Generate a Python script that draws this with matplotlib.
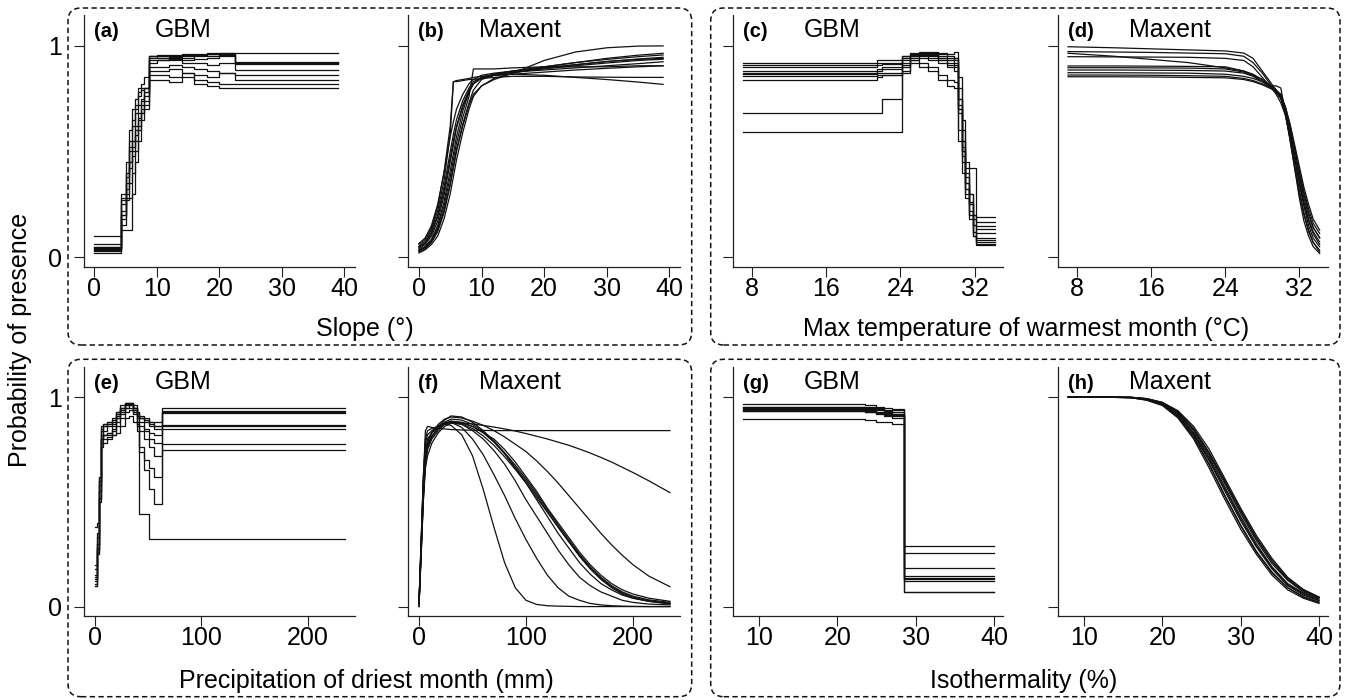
import matplotlib.pyplot as plt
from matplotlib.patches import FancyBboxPatch

plt.rcParams['font.family'] = ['Liberation Sans', 'DejaVu Sans']

W, H = 1347, 700

# (a) GBM - slope, step curves
slope_x_gbm = [0, 4.3, 5, 5.5, 6, 6.5, 7, 7.5, 8, 8.7, 10, 12, 14, 16, 18, 20, 22.5, 39]
slope_gbm = [
    [0.04, 0.25, 0.45, 0.60, 0.70, 0.75, 0.80, 0.82, 0.85, 0.95, 0.955, 0.955, 0.96, 0.96, 0.965, 0.965, 0.965, 0.965],
    [0.05, 0.13, 0.13, 0.13, 0.30, 0.45, 0.55, 0.65, 0.70, 0.95, 0.95, 0.95, 0.955, 0.955, 0.96, 0.96, 0.925, 0.925],
    [0.03, 0.20, 0.35, 0.50, 0.55, 0.68, 0.72, 0.75, 0.78, 0.94, 0.94, 0.945, 0.95, 0.955, 0.96, 0.965, 0.92, 0.92],
    [0.10, 0.30, 0.40, 0.52, 0.62, 0.70, 0.76, 0.80, 0.80, 0.93, 0.93, 0.94, 0.94, 0.95, 0.95, 0.955, 0.918, 0.918],
    [0.02, 0.15, 0.28, 0.28, 0.40, 0.50, 0.60, 0.68, 0.72, 0.92, 0.93, 0.935, 0.93, 0.935, 0.94, 0.95, 0.915, 0.915],
    [0.06, 0.18, 0.30, 0.45, 0.55, 0.62, 0.66, 0.72, 0.80, 0.95, 0.94, 0.93, 0.92, 0.92, 0.91, 0.92, 0.885, 0.885],
    [0.045, 0.22, 0.38, 0.45, 0.50, 0.58, 0.65, 0.70, 0.76, 0.90, 0.90, 0.91, 0.90, 0.89, 0.88, 0.87, 0.86, 0.86],
    [0.035, 0.27, 0.27, 0.35, 0.48, 0.55, 0.62, 0.68, 0.74, 0.88, 0.88, 0.89, 0.87, 0.86, 0.85, 0.87, 0.84, 0.84],
    [0.05, 0.28, 0.40, 0.55, 0.65, 0.72, 0.78, 0.79, 0.80, 0.86, 0.86, 0.85, 0.87, 0.84, 0.83, 0.82, 0.82, 0.82],
    [0.04, 0.20, 0.32, 0.42, 0.52, 0.60, 0.68, 0.74, 0.78, 0.84, 0.84, 0.83, 0.85, 0.82, 0.81, 0.80, 0.80, 0.80],
]

# (b) Maxent - slope
slope_x_max = [0, 1, 2, 3, 4, 5, 5.5, 6, 7, 8, 8.7, 10, 12, 15, 20, 25, 30, 35, 39]
slope_max = [
    [0.06, 0.09, 0.15, 0.25, 0.40, 0.62, 0.83, 0.83, 0.835, 0.84, 0.84, 0.845, 0.85, 0.855, 0.855, 0.852, 0.851, 0.85, 0.85],
    [0.03, 0.05, 0.08, 0.14, 0.24, 0.38, 0.46, 0.54, 0.66, 0.76, 0.89, 0.89, 0.89, 0.895, 0.90, 0.90, 0.90, 0.905, 0.905],
    [0.025, 0.04, 0.07, 0.12, 0.21, 0.34, 0.42, 0.50, 0.62, 0.72, 0.77, 0.81, 0.84, 0.87, 0.93, 0.97, 0.99, 0.998, 0.999],
    [0.05, 0.07, 0.12, 0.20, 0.33, 0.50, 0.58, 0.65, 0.74, 0.80, 0.83, 0.85, 0.865, 0.88, 0.90, 0.92, 0.94, 0.955, 0.964],
    [0.04, 0.06, 0.10, 0.17, 0.29, 0.45, 0.53, 0.61, 0.71, 0.78, 0.82, 0.85, 0.865, 0.88, 0.90, 0.92, 0.935, 0.948, 0.956],
    [0.065, 0.09, 0.14, 0.24, 0.40, 0.57, 0.64, 0.70, 0.77, 0.82, 0.84, 0.86, 0.87, 0.88, 0.895, 0.91, 0.925, 0.937, 0.945],
    [0.03, 0.045, 0.075, 0.13, 0.22, 0.35, 0.43, 0.51, 0.63, 0.73, 0.79, 0.84, 0.86, 0.875, 0.89, 0.905, 0.918, 0.93, 0.936],
    [0.045, 0.065, 0.11, 0.19, 0.31, 0.47, 0.55, 0.62, 0.72, 0.79, 0.82, 0.845, 0.86, 0.875, 0.885, 0.895, 0.905, 0.915, 0.924],
    [0.05, 0.08, 0.13, 0.22, 0.36, 0.58, 0.83, 0.835, 0.84, 0.845, 0.85, 0.855, 0.86, 0.865, 0.875, 0.885, 0.893, 0.90, 0.905],
    [0.035, 0.05, 0.085, 0.15, 0.26, 0.41, 0.49, 0.57, 0.69, 0.78, 0.82, 0.85, 0.86, 0.865, 0.86, 0.85, 0.84, 0.828, 0.817],
    [0.02, 0.035, 0.06, 0.10, 0.18, 0.30, 0.38, 0.46, 0.59, 0.70, 0.76, 0.81, 0.845, 0.87, 0.895, 0.91, 0.925, 0.935, 0.94],
]

# (c) GBM - max temperature of warmest month
tmax_x_gbm = [7, 21.5, 22, 24.2, 25, 26, 27, 28, 29, 29.8, 30.2, 30.6, 31, 31.4, 31.8, 32.2, 34.2]
tmax_gbm = [
    [0.92, 0.93, 0.93, 0.95, 0.965, 0.97, 0.97, 0.965, 0.96, 0.97, 0.85, 0.65, 0.45, 0.30, 0.20, 0.19, 0.19],
    [0.909, 0.92, 0.92, 0.94, 0.95, 0.96, 0.965, 0.96, 0.95, 0.94, 0.75, 0.55, 0.42, 0.42, 0.42, 0.167, 0.167],
    [0.901, 0.91, 0.915, 0.93, 0.96, 0.965, 0.96, 0.95, 0.94, 0.93, 0.70, 0.50, 0.35, 0.25, 0.15, 0.147, 0.147],
    [0.88, 0.89, 0.90, 0.92, 0.95, 0.96, 0.955, 0.94, 0.93, 0.92, 0.72, 0.52, 0.38, 0.26, 0.18, 0.131, 0.131],
    [0.872, 0.88, 0.89, 0.91, 0.94, 0.95, 0.94, 0.93, 0.92, 0.91, 0.80, 0.60, 0.40, 0.30, 0.20, 0.112, 0.112],
    [0.866, 0.87, 0.87, 0.90, 0.93, 0.94, 0.93, 0.92, 0.90, 0.88, 0.68, 0.48, 0.32, 0.22, 0.15, 0.093, 0.093],
    [0.857, 0.86, 0.86, 0.88, 0.93, 0.92, 0.90, 0.86, 0.84, 0.83, 0.60, 0.45, 0.30, 0.20, 0.12, 0.08, 0.08],
    [0.838, 0.85, 0.86, 0.87, 0.92, 0.90, 0.88, 0.84, 0.81, 0.80, 0.55, 0.40, 0.28, 0.18, 0.10, 0.057, 0.057],
    [0.683, 0.683, 0.748, 0.95, 0.955, 0.96, 0.955, 0.94, 0.93, 0.94, 0.75, 0.55, 0.35, 0.25, 0.12, 0.06, 0.06],
    [0.593, 0.593, 0.593, 0.94, 0.95, 0.955, 0.95, 0.93, 0.91, 0.90, 0.70, 0.50, 0.32, 0.20, 0.10, 0.07, 0.07],
]

# (d) Maxent - max temperature of warmest month
tmax_x_max = [7, 12, 16, 20, 24, 26, 27, 28, 29, 29.5, 30, 30.5, 31, 31.5, 32, 32.5, 33, 33.5, 34.2]
tmax_max = [
    [0.995, 0.99, 0.985, 0.98, 0.975, 0.965, 0.94, 0.88, 0.82, 0.79, 0.76, 0.68, 0.56, 0.42, 0.28, 0.17, 0.10, 0.05, 0.017],
    [0.972, 0.97, 0.968, 0.965, 0.962, 0.95, 0.92, 0.87, 0.81, 0.78, 0.75, 0.69, 0.59, 0.47, 0.35, 0.25, 0.17, 0.11, 0.06],
    [0.964, 0.95, 0.935, 0.92, 0.895, 0.88, 0.865, 0.84, 0.80, 0.77, 0.73, 0.67, 0.58, 0.48, 0.38, 0.28, 0.20, 0.14, 0.09],
    [0.948, 0.947, 0.946, 0.945, 0.94, 0.93, 0.90, 0.85, 0.80, 0.78, 0.77, 0.70, 0.60, 0.48, 0.36, 0.26, 0.18, 0.12, 0.072],
    [0.904, 0.904, 0.903, 0.902, 0.90, 0.88, 0.86, 0.83, 0.81, 0.81, 0.80, 0.68, 0.55, 0.42, 0.30, 0.20, 0.12, 0.07, 0.033],
    [0.896, 0.896, 0.895, 0.894, 0.89, 0.875, 0.86, 0.84, 0.81, 0.79, 0.76, 0.71, 0.63, 0.53, 0.43, 0.33, 0.25, 0.18, 0.128],
    [0.885, 0.885, 0.884, 0.883, 0.88, 0.87, 0.855, 0.83, 0.80, 0.78, 0.75, 0.70, 0.62, 0.52, 0.41, 0.31, 0.23, 0.16, 0.112],
    [0.872, 0.872, 0.871, 0.87, 0.865, 0.855, 0.845, 0.83, 0.805, 0.79, 0.77, 0.71, 0.62, 0.51, 0.40, 0.30, 0.21, 0.14, 0.093],
    [0.861, 0.861, 0.86, 0.858, 0.855, 0.845, 0.835, 0.82, 0.80, 0.78, 0.76, 0.69, 0.59, 0.47, 0.35, 0.24, 0.15, 0.09, 0.049],
    [0.853, 0.853, 0.852, 0.85, 0.848, 0.84, 0.83, 0.815, 0.795, 0.78, 0.75, 0.67, 0.56, 0.44, 0.32, 0.21, 0.13, 0.07, 0.025],
]

# (e) GBM - precipitation of driest month
prec_x_gbm = [0, 2, 4, 6, 8, 12, 16, 20, 24, 28, 32, 36, 40, 42, 46, 51, 56, 63.4, 234.6]
prec_gbm = [
    [0.15, 0.30, 0.60, 0.85, 0.87, 0.88, 0.90, 0.93, 0.95, 0.965, 0.97, 0.96, 0.93, 0.90, 0.90, 0.88, 0.88, 0.95, 0.95],
    [0.12, 0.28, 0.55, 0.82, 0.86, 0.87, 0.88, 0.92, 0.95, 0.97, 0.965, 0.95, 0.92, 0.90, 0.88, 0.86, 0.86, 0.93, 0.93],
    [0.10, 0.25, 0.50, 0.80, 0.84, 0.86, 0.88, 0.93, 0.96, 0.97, 0.97, 0.95, 0.93, 0.91, 0.89, 0.87, 0.85, 0.925, 0.925],
    [0.20, 0.35, 0.62, 0.80, 0.82, 0.83, 0.85, 0.90, 0.94, 0.96, 0.96, 0.94, 0.91, 0.88, 0.85, 0.83, 0.82, 0.869, 0.869],
    [0.14, 0.30, 0.58, 0.78, 0.80, 0.81, 0.86, 0.91, 0.94, 0.96, 0.965, 0.95, 0.90, 0.86, 0.84, 0.80, 0.78, 0.861, 0.861],
    [0.18, 0.33, 0.60, 0.84, 0.86, 0.87, 0.87, 0.90, 0.93, 0.95, 0.95, 0.93, 0.88, 0.84, 0.80, 0.76, 0.72, 0.847, 0.847],
    [0.11, 0.27, 0.52, 0.76, 0.78, 0.80, 0.82, 0.86, 0.90, 0.93, 0.94, 0.92, 0.86, 0.74, 0.70, 0.66, 0.62, 0.775, 0.775],
    [0.13, 0.28, 0.55, 0.80, 0.82, 0.82, 0.84, 0.88, 0.92, 0.95, 0.96, 0.93, 0.87, 0.76, 0.65, 0.56, 0.49, 0.747, 0.747],
    [0.10, 0.26, 0.52, 0.80, 0.82, 0.83, 0.82, 0.83, 0.86, 0.90, 0.91, 0.88, 0.84, 0.44, 0.44, 0.324, 0.324, 0.324, 0.324],
    [0.38, 0.40, 0.62, 0.86, 0.87, 0.88, 0.89, 0.92, 0.95, 0.97, 0.97, 0.95, 0.92, 0.90, 0.89, 0.88, 0.86, 0.935, 0.935],
]

# (f) Maxent - precipitation of driest month
prec_x_max = [0, 2, 4, 6, 8, 12, 18, 24, 30, 40, 50, 60, 70, 80, 90, 100, 110, 120, 130, 140,
              150, 160, 170, 180, 190, 200, 215, 234.6]
prec_max = [
    [0.02, 0.30, 0.60, 0.84, 0.86, 0.855, 0.85, 0.848, 0.845, 0.843, 0.842, 0.841, 0.84, 0.84, 0.84, 0.84, 0.84, 0.84, 0.84, 0.84,
     0.84, 0.84, 0.84, 0.84, 0.84, 0.84, 0.84, 0.84],
    [0.01, 0.25, 0.50, 0.68, 0.75, 0.80, 0.84, 0.87, 0.88, 0.877, 0.872, 0.865, 0.857, 0.848, 0.838, 0.826, 0.813, 0.80, 0.785, 0.77,
     0.752, 0.733, 0.712, 0.69, 0.665, 0.64, 0.60, 0.544],
    [0.02, 0.28, 0.55, 0.72, 0.78, 0.83, 0.87, 0.895, 0.905, 0.90, 0.885, 0.865, 0.84, 0.81, 0.775, 0.74, 0.695, 0.645, 0.59, 0.53,
     0.47, 0.41, 0.35, 0.295, 0.245, 0.20, 0.145, 0.095],
    [0.01, 0.26, 0.52, 0.70, 0.76, 0.81, 0.86, 0.89, 0.91, 0.905, 0.88, 0.84, 0.79, 0.73, 0.66, 0.59, 0.51, 0.43, 0.35, 0.28,
     0.21, 0.155, 0.11, 0.08, 0.055, 0.04, 0.025, 0.015],
    [0.02, 0.30, 0.58, 0.74, 0.79, 0.83, 0.86, 0.88, 0.895, 0.89, 0.87, 0.835, 0.79, 0.735, 0.675, 0.61, 0.54, 0.465, 0.39, 0.32,
     0.25, 0.19, 0.14, 0.10, 0.07, 0.05, 0.032, 0.02],
    [0.00, 0.24, 0.50, 0.66, 0.72, 0.78, 0.83, 0.86, 0.875, 0.87, 0.85, 0.815, 0.77, 0.715, 0.655, 0.59, 0.52, 0.45, 0.38, 0.31,
     0.245, 0.185, 0.135, 0.095, 0.065, 0.045, 0.028, 0.015],
    [0.01, 0.27, 0.54, 0.71, 0.77, 0.815, 0.85, 0.875, 0.885, 0.88, 0.86, 0.83, 0.785, 0.73, 0.665, 0.60, 0.53, 0.455, 0.38, 0.31,
     0.24, 0.18, 0.13, 0.09, 0.06, 0.04, 0.025, 0.012],
    [0.02, 0.32, 0.62, 0.80, 0.84, 0.85, 0.86, 0.87, 0.88, 0.875, 0.86, 0.83, 0.80, 0.75, 0.69, 0.62, 0.55, 0.47, 0.40, 0.33,
     0.26, 0.20, 0.15, 0.11, 0.08, 0.06, 0.04, 0.025],
    [0.01, 0.30, 0.60, 0.78, 0.82, 0.84, 0.86, 0.87, 0.865, 0.82, 0.72, 0.56, 0.38, 0.21, 0.09, 0.03, 0.01, 0.004, 0.002, 0.001,
     0.0, 0.0, 0.0, 0.0, 0.0, 0.0, 0.0, 0.0],
    [0.00, 0.28, 0.56, 0.74, 0.80, 0.83, 0.86, 0.875, 0.88, 0.855, 0.80, 0.725, 0.63, 0.53, 0.42, 0.32, 0.23, 0.15, 0.09, 0.05,
     0.03, 0.015, 0.008, 0.004, 0.002, 0.001, 0.0, 0.0],
    [0.01, 0.26, 0.52, 0.70, 0.76, 0.81, 0.85, 0.875, 0.885, 0.87, 0.84, 0.80, 0.745, 0.68, 0.60, 0.51, 0.43, 0.35, 0.27, 0.20,
     0.14, 0.10, 0.07, 0.05, 0.03, 0.02, 0.012, 0.008],
]

# (g) GBM - isothermality
iso_x_gbm = [8, 23.5, 25, 26, 27, 28.5, 40]
iso_gbm = [
    [0.965, 0.96, 0.955, 0.95, 0.945, 0.288, 0.288],
    [0.955, 0.955, 0.95, 0.94, 0.94, 0.256, 0.256],
    [0.949, 0.945, 0.94, 0.935, 0.93, 0.183, 0.183],
    [0.945, 0.94, 0.93, 0.925, 0.92, 0.145, 0.145],
    [0.94, 0.935, 0.92, 0.915, 0.91, 0.137, 0.137],
    [0.932, 0.93, 0.925, 0.91, 0.90, 0.122, 0.122],
    [0.896, 0.89, 0.88, 0.88, 0.87, 0.071, 0.071],
    [0.952, 0.95, 0.945, 0.93, 0.92, 0.13, 0.13],
    [0.935, 0.93, 0.925, 0.92, 0.915, 0.071, 0.071],
]

# (h) Maxent - isothermality
iso_x_max = [8, 12, 16, 18, 20, 22, 24, 26, 28, 30, 32, 34, 36, 38, 40]
iso_max = [
    [1.0, 1.0, 0.997, 0.985, 0.96, 0.90, 0.80, 0.66, 0.51, 0.37, 0.25, 0.15, 0.08, 0.04, 0.015],
    [1.0, 1.0, 0.997, 0.987, 0.963, 0.905, 0.81, 0.675, 0.525, 0.385, 0.26, 0.16, 0.09, 0.045, 0.02],
    [1.0, 1.0, 0.998, 0.99, 0.97, 0.92, 0.83, 0.71, 0.57, 0.43, 0.30, 0.19, 0.11, 0.065, 0.035],
    [1.0, 1.0, 0.998, 0.991, 0.972, 0.925, 0.84, 0.72, 0.585, 0.445, 0.315, 0.205, 0.125, 0.07, 0.04],
    [1.0, 1.0, 0.999, 0.992, 0.974, 0.93, 0.85, 0.735, 0.60, 0.46, 0.33, 0.22, 0.135, 0.078, 0.044],
    [1.0, 1.0, 0.999, 0.993, 0.975, 0.935, 0.86, 0.75, 0.61, 0.47, 0.34, 0.23, 0.14, 0.082, 0.046],
    [1.0, 1.0, 0.998, 0.99, 0.968, 0.915, 0.825, 0.70, 0.56, 0.42, 0.29, 0.185, 0.105, 0.06, 0.03],
    [1.0, 1.0, 0.998, 0.989, 0.967, 0.912, 0.82, 0.695, 0.55, 0.41, 0.285, 0.18, 0.10, 0.055, 0.028],
    [1.0, 1.0, 0.999, 0.992, 0.973, 0.928, 0.845, 0.73, 0.595, 0.455, 0.325, 0.215, 0.13, 0.075, 0.042],
    [1.0, 1.0, 0.997, 0.986, 0.962, 0.905, 0.81, 0.68, 0.53, 0.39, 0.265, 0.165, 0.09, 0.048, 0.022],
]

panel_tags = ['(a)', '(b)', '(c)', '(d)', '(e)', '(f)', '(g)', '(h)']
model_names = ['GBM', 'Maxent'] * 4
x_ticks = [[0, 10, 20, 30, 40]] * 2 + [[8, 16, 24, 32]] * 2 + [[0, 100, 200]] * 2 + [[10, 20, 30, 40]] * 2
x_labels = ['Slope (°)', 'Max temperature of warmest month (°C)',
            'Precipitation of driest month (mm)', 'Isothermality (%)']

# layout in pixels (left, right) per column, (top, bottom) per row, plus x limits
px_cols = [(84, 355), (408.3, 680), (733.3, 1003.3), (1058.3, 1328)]
px_rows = [(15, 266.7), (366.7, 616)]
xlims = [(-1.65, 41.7), (-1.7, 41.7), (5.95, 35.1), (5.95, 35.1),
         (-10, 244), (-10, 244), (6.72, 41.2), (6.72, 41.15)]

xs = [slope_x_gbm, slope_x_max, tmax_x_gbm, tmax_x_max, prec_x_gbm, prec_x_max, iso_x_gbm, iso_x_max]
ys = [slope_gbm, slope_max, tmax_gbm, tmax_max, prec_gbm, prec_max, iso_gbm, iso_max]

fig = plt.figure(figsize=(W / 100, H / 100), dpi=100)

for i in range(8):
    row, col = divmod(i, 4)
    l, r = px_cols[col]
    t, b = px_rows[row]
    ax = fig.add_axes([l / W, 1 - b / H, (r - l) / W, (b - t) / H])
    step = 'steps-post' if model_names[i] == 'GBM' else 'default'
    for curve in ys[i]:
        ax.plot(xs[i], curve, color='#111111', lw=0.9, drawstyle=step)
    ax.set_xlim(*xlims[i])
    ax.set_ylim(-0.045, 1.145)
    ax.set_xticks(x_ticks[i])
    ax.set_yticks([0, 1])
    ax.set_yticklabels(['0', '1'])
    for s in ['top', 'right']:
        ax.spines[s].set_visible(False)
    for s in ['left', 'bottom']:
        ax.spines[s].set_linewidth(0.9)
        ax.spines[s].set_color('#222222')
    ax.tick_params(axis='both', direction='out', length=7, width=0.8, color='#222222', labelsize=18)
    ax.tick_params(axis='x', pad=0.5)
    ax.tick_params(axis='y', pad=9)
    if i not in (0, 4):
        ax.tick_params(axis='y', labelleft=False)
    ax.annotate(panel_tags[i], xy=(0, 1), xycoords='axes fraction', xytext=(7.2, -15.8),
                textcoords='offset points', fontsize=14.5, fontweight='bold', va='baseline', ha='left')
    ax.annotate(model_names[i], xy=(0, 1), xycoords='axes fraction', xytext=(51, -15.8),
                textcoords='offset points', fontsize=18, va='baseline', ha='left')

# x axis titles
fig.text(365 / W, 1 - 336 / H, x_labels[0], ha='center', va='baseline', fontsize=18)
fig.text(1026 / W, 1 - 336 / H, x_labels[1], ha='center', va='baseline', fontsize=18)
fig.text(366 / W, 1 - 688 / H, x_labels[2], ha='center', va='baseline', fontsize=18)
fig.text(1024 / W, 1 - 688 / H, x_labels[3], ha='center', va='baseline', fontsize=18)
fig.text(20 / W, 1 - 340 / H, 'Probability of presence', rotation=90, ha='center', va='center', fontsize=18)

# dashed rounded frames around each variable pair
frames = [(68, 691.7, 8, 345), (710.7, 1340, 8, 345), (68, 691.7, 359.3, 696.7), (710.7, 1340, 359.3, 696.7)]
for l, r, t, b in frames:
    box = FancyBboxPatch((l / 100, (H - b) / 100), (r - l) / 100, (b - t) / 100,
                         boxstyle='round,pad=0,rounding_size=0.13', transform=fig.dpi_scale_trans,
                         fill=False, edgecolor='#111111', lw=1.1, linestyle=(0, (3.5, 2.2)))
    fig.patches.append(box)

fig.savefig('out.png', dpi=100)
